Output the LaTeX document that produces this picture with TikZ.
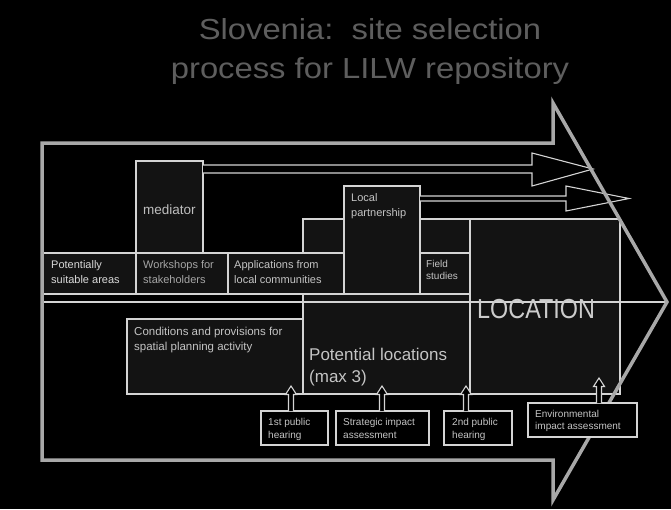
\documentclass[tikz,border=0pt]{standalone}
\usepackage{fontspec}
\setmainfont{Liberation Sans}
\newfontfamily\titlefont[FakeStretch=1.13]{Liberation Sans}
\newfontfamily\locfont[FakeStretch=0.85]{Liberation Sans}
\usetikzlibrary{calc}
\definecolor{bx}{HTML}{131313}
\definecolor{bl}{HTML}{D4D4D4}
\definecolor{tx}{HTML}{C4C4C4}
\definecolor{tt}{HTML}{5E5E5E}
\definecolor{ol}{HTML}{A8A8A8}
\tikzset{
  boxst/.style={draw=bl, fill=bx, line width=1.2pt, anchor=north west, inner sep=0pt, outer sep=0pt},
  lbl/.style={anchor=base west, align=left, inner sep=0pt, text=tx},
  hol/.style={draw=bl, fill=black, line width=1.1pt, line join=miter},
}
\newcommand\uparr[3]{%
  \draw[hol] ({#1-2.5},#2) -- ({#1-2.5},{#3+8.5}) -- ({#1-5.5},{#3+8.5}) -- (#1,#3)
    -- ({#1+5.5},{#3+8.5}) -- ({#1+2.5},{#3+8.5}) -- ({#1+2.5},#2);}
\begin{document}
\begin{tikzpicture}[x=1pt,y=-1pt]
\fill[black] (0,0) rectangle (671,509);
\useasboundingbox (0,0) rectangle (671,509);

% title
\node[anchor=base, inner sep=0pt, text=tt, font=\titlefont\fontsize{29}{39}\selectfont] (t1) at (370,39) {Slovenia:\ \ site selection};
\node[anchor=base, inner sep=0pt, text=tt, font=\titlefont\fontsize{29}{39}\selectfont] (t2) at (370,78) {process for LILW repository};

% large boxes
\node[boxst, minimum width=167pt, minimum height=175pt] (potloc) at (303,219) {};
\node[boxst, minimum width=150pt, minimum height=175pt] (locbox) at (470,219) {};
\node[boxst, minimum width=176pt, minimum height=75pt] (cond) at (127,319) {};
\node[boxst, minimum width=67pt, minimum height=92pt] (med) at (136,161) {};
\node[boxst, minimum width=93pt, minimum height=41pt] (pot) at (43,253) {};
\node[boxst, minimum width=92pt, minimum height=41pt] (work) at (136,253) {};
\node[boxst, minimum width=116pt, minimum height=41pt] (appl) at (228,253) {};
\node[boxst, minimum width=50pt, minimum height=41pt] (field) at (420,253) {};
\node[boxst, minimum width=76pt, minimum height=108pt] (local) at (344,186) {};

% middle line
\coordinate (ml) at (42,302);
\coordinate (mr) at (667,302);
\draw[bl, line width=1.2pt] (ml) -- (mr);

% horizontal hollow arrows
\draw[hol] (203,165) -- (532,165) -- (532,153) -- (593,169) -- (532,186) -- (532,173) -- (203,173);
\draw[hol] (420,196) -- (566,196) -- (566,186) -- (629,198.5) -- (566,211) -- (566,201) -- (420,201);

% big outline arrow
\draw[ol, line width=3.5pt, line join=miter] (42,143) -- (553,143) -- (553,103) -- (667,302) -- (553,500) -- (553,460) -- (42,460) -- cycle;

% small boxes
\node[boxst, fill=black, minimum width=67pt, minimum height=34pt] (h1) at (261,411) {};
\node[boxst, fill=black, minimum width=93pt, minimum height=34pt] (sia) at (336,411) {};
\node[boxst, fill=black, minimum width=68pt, minimum height=34pt] (h2) at (444,411) {};
\node[boxst, fill=black, minimum width=109pt, minimum height=34pt] (eia) at (528,403) {};

% up arrows
\uparr{291}{411}{386}
\uparr{382}{411}{386}
\uparr{466}{411}{386}
\uparr{599}{403}{378}

% texts (base anchor = baseline of last line)
\node[lbl, font=\fontsize{11}{15}\selectfont, text=white!85!black] (tpot) at (51,283) {Potentially\\suitable areas};
\node[lbl, font=\fontsize{11}{15}\selectfont, text=white!65!black] (twork) at (143,283) {Workshops for\\stakeholders};
\node[lbl, font=\fontsize{11}{15}\selectfont] (tappl) at (234,283) {Applications from\\local communities};
\node[lbl, font=\fontsize{13.5}{16}\selectfont, text=white!75!black] (tmed) at (143,214) {mediator};
\node[lbl, font=\fontsize{11}{15}\selectfont] (tlocal) at (351,216) {Local\\partnership};
\node[lbl, font=\fontsize{10}{12.5}\selectfont] (tfield) at (426,279.5) {Field\\studies};
\node[lbl, font=\fontsize{11.5}{15}\selectfont] (tcond) at (134,350) {Conditions and provisions for\\spatial planning activity};
\node[lbl, font=\fontsize{17}{22.5}\selectfont] (tpotloc) at (309,382.5) {Potential locations\\(max 3)};
\node[anchor=base west, inner sep=0pt, text=white!80!black, font=\locfont\fontsize{27.5}{30}\selectfont] (tloc) at (477,318) {LOCATION};
\node[lbl, font=\fontsize{10}{13}\selectfont] (th1) at (268,438) {1st public\\hearing};
\node[lbl, font=\fontsize{10}{13}\selectfont] (tsia) at (343,438) {Strategic impact\\assessment};
\node[lbl, font=\fontsize{10}{13}\selectfont] (th2) at (452,438) {2nd public\\hearing};
\node[lbl, font=\fontsize{10}{12.5}\selectfont] (teia) at (535,429.5) {Environmental\\impact assessment};
\end{tikzpicture}
\end{document}
